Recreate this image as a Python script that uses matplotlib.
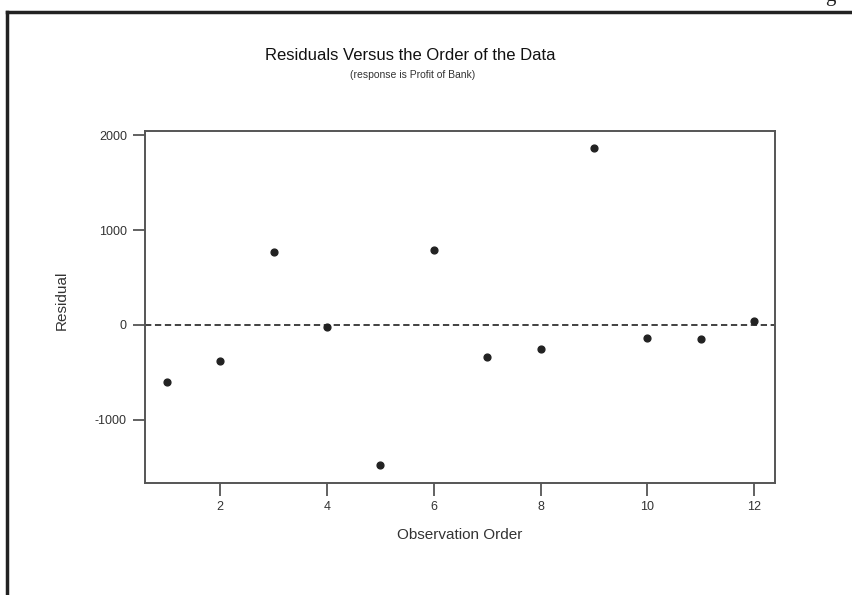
import matplotlib
matplotlib.use("Agg")
import matplotlib.pyplot as plt
from matplotlib.lines import Line2D

plt.rcParams['font.family'] = ['Liberation Sans Narrow', 'Liberation Sans', 'DejaVu Sans']

order = [1, 2, 3, 4, 5, 6, 7, 8, 9, 10, 11, 12]
residuals = [-601, -383, 765, -20, -1480, 789, -341, -251, 1864, -139, -146, 43]
xticks = [2, 4, 6, 8, 10, 12]
yticks = [-1000, 0, 1000, 2000]

W, H = 852, 595
fig = plt.figure(figsize=(W / 100, H / 100), dpi=100)

# outer frame (left and top lines)
fig.add_artist(Line2D([7 / W, 7 / W], [0, 1 - 12 / H], transform=fig.transFigure,
                      color='#222222', lw=2.5))
fig.add_artist(Line2D([7 / W, 1], [1 - 12 / H, 1 - 12 / H], transform=fig.transFigure,
                      color='#222222', lw=2.5))
fig.text(830 / W, 1 + 3 / H, 'g', family='Liberation Serif', fontsize=15,
         ha='center', va='center', color='#222222')

ax = fig.add_axes([145 / W, 1 - 483 / H, (775 - 145) / W, (483 - 131) / H])
ax.scatter(order, residuals, s=24, color='#222222', zorder=3)
ax.axhline(0, color='#333333', lw=1.3, ls=(0, (3.5, 2)))
ax.set_xlim(0.59, 12.39)
ax.set_ylim(-1666, 2045)
ax.set_xticks(xticks)
ax.set_yticks(yticks)
ax.set_xticklabels([str(t) for t in xticks])
ax.set_yticklabels([str(t) for t in yticks])
for s in ax.spines.values():
    s.set_color('#555555')
    s.set_linewidth(1.4)
ax.tick_params(direction='out', length=9, width=1.3, color='#555555',
               labelsize=9, labelcolor='#333333', pad=4)

fig.text(410 / W, 1 - 55 / H, 'Residuals Versus the Order of the Data',
         ha='center', va='center', fontsize=12, color='#111111')
fig.text(413 / W, 1 - 75 / H, '(response is Profit of Bank)',
         ha='center', va='center', fontsize=7.5, color='#333333')
fig.text(460 / W, 1 - 535 / H, 'Observation Order', ha='center', va='center',
         fontsize=11, color='#333333')
fig.text(62 / W, 1 - 300 / H, 'Residual', ha='center', va='center',
         rotation=90, fontsize=11, color='#333333')

fig.savefig('out.png', dpi=100)
